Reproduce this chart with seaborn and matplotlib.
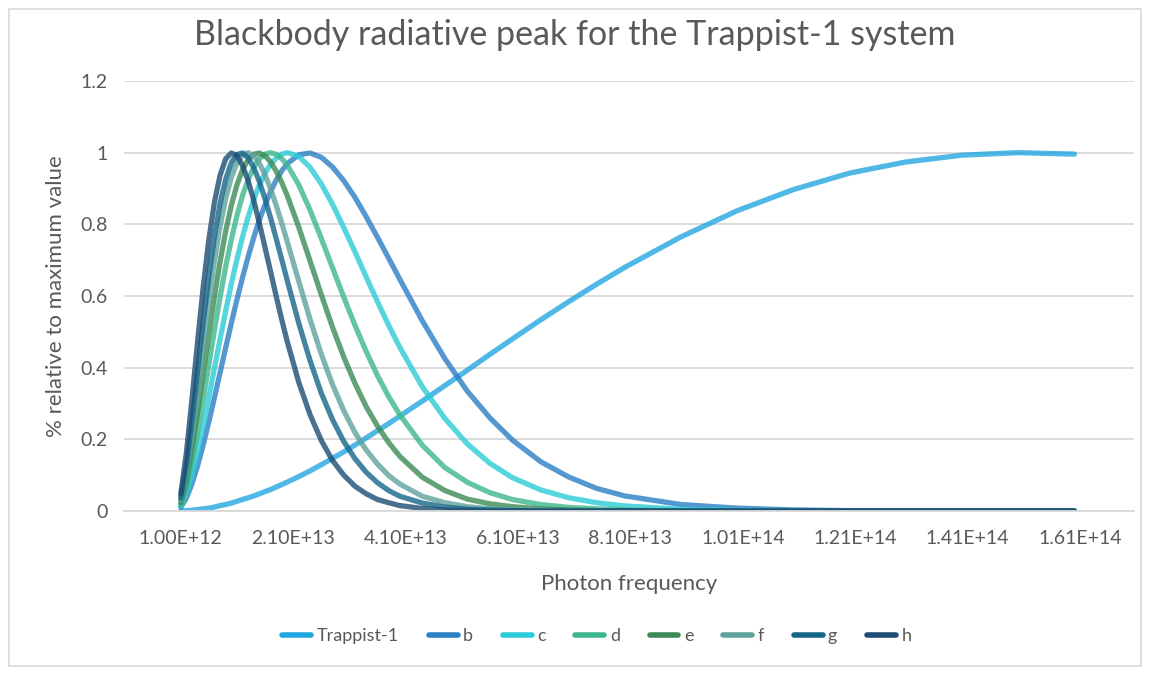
import numpy as np
import pandas as pd
import matplotlib
matplotlib.use("Agg")
import matplotlib.pyplot as plt
import matplotlib.ticker as mticker
from matplotlib.lines import Line2D
from matplotlib.patches import Rectangle
import seaborn as sns

# photon frequency, in units of 1E12 Hz
freq_e12 = [1, 2, 3, 4, 5, 6, 7, 8, 9, 10, 11, 12, 13, 14, 15, 16, 17, 18, 19, 20,
            22, 24, 26, 28, 30, 32, 34, 36, 38, 40, 44, 48, 52, 56, 60, 65, 70, 75,
            80, 90, 100, 110, 120, 130, 140, 150, 160]

# normalised blackbody curves
trappist1 = [0.000, 0.001, 0.002, 0.004, 0.006, 0.008, 0.011, 0.015, 0.018, 0.022,
             0.027, 0.032, 0.037, 0.042, 0.048, 0.054, 0.060, 0.067, 0.074, 0.081,
             0.096, 0.112, 0.129, 0.147, 0.165, 0.184, 0.204, 0.224, 0.244, 0.265,
             0.307, 0.350, 0.393, 0.437, 0.480, 0.533, 0.584, 0.633, 0.680, 0.765,
             0.838, 0.897, 0.943, 0.974, 0.993, 1.000, 0.996]
b = [0.010, 0.036, 0.076, 0.126, 0.185, 0.249, 0.317, 0.386, 0.456, 0.524,
     0.590, 0.652, 0.710, 0.764, 0.813, 0.855, 0.892, 0.924, 0.950, 0.970,
     0.994, 0.999, 0.987, 0.960, 0.922, 0.875, 0.821, 0.764, 0.705, 0.646,
     0.530, 0.425, 0.334, 0.260, 0.198, 0.138, 0.095, 0.063, 0.042, 0.018,
     0.008, 0.003, 0.001, 0.000, 0.000, 0.000, 0.000]
c = [0.013, 0.048, 0.100, 0.165, 0.239, 0.318, 0.399, 0.480, 0.559, 0.634,
     0.702, 0.765, 0.821, 0.870, 0.910, 0.943, 0.968, 0.985, 0.996, 1.000,
     0.990, 0.959, 0.913, 0.856, 0.791, 0.723, 0.653, 0.584, 0.518, 0.456,
     0.346, 0.258, 0.187, 0.133, 0.093, 0.059, 0.037, 0.023, 0.014, 0.005,
     0.002, 0.001, 0.000, 0.000, 0.000, 0.000, 0.000]
d = [0.018, 0.066, 0.136, 0.220, 0.313, 0.409, 0.505, 0.597, 0.682, 0.758,
     0.824, 0.881, 0.925, 0.959, 0.983, 0.996, 1.000, 0.995, 0.983, 0.964,
     0.910, 0.840, 0.761, 0.679, 0.597, 0.518, 0.445, 0.378, 0.319, 0.268,
     0.183, 0.121, 0.080, 0.051, 0.032, 0.018, 0.010, 0.006, 0.003, 0.001,
     0.000, 0.000, 0.000, 0.000, 0.000, 0.000, 0.000]
e = [0.023, 0.084, 0.171, 0.274, 0.384, 0.494, 0.599, 0.696, 0.781, 0.853,
     0.910, 0.953, 0.981, 0.996, 0.999, 0.991, 0.974, 0.948, 0.916, 0.878,
     0.792, 0.698, 0.604, 0.513, 0.430, 0.356, 0.291, 0.237, 0.191, 0.152,
     0.094, 0.057, 0.033, 0.020, 0.012, 0.006, 0.003, 0.001, 0.001, 0.000,
     0.000, 0.000, 0.000, 0.000, 0.000, 0.000, 0.000]
f = [0.030, 0.108, 0.215, 0.338, 0.465, 0.587, 0.698, 0.794, 0.872, 0.931,
     0.972, 0.994, 1.000, 0.991, 0.970, 0.938, 0.898, 0.852, 0.802, 0.749,
     0.641, 0.535, 0.438, 0.353, 0.280, 0.219, 0.170, 0.131, 0.099, 0.075,
     0.041, 0.023, 0.012, 0.006, 0.003, 0.001, 0.001, 0.000, 0.000, 0.000,
     0.000, 0.000, 0.000, 0.000, 0.000, 0.000, 0.000]
g = [0.036, 0.127, 0.251, 0.389, 0.527, 0.655, 0.767, 0.858, 0.926, 0.972,
     0.995, 0.999, 0.986, 0.958, 0.919, 0.871, 0.817, 0.759, 0.700, 0.640,
     0.524, 0.420, 0.329, 0.255, 0.194, 0.146, 0.108, 0.079, 0.057, 0.041,
     0.022, 0.011, 0.005, 0.003, 0.001, 0.000, 0.000, 0.000, 0.000, 0.000,
     0.000, 0.000, 0.000, 0.000, 0.000, 0.000, 0.000]
h = [0.047, 0.162, 0.312, 0.473, 0.625, 0.757, 0.862, 0.937, 0.983, 0.999,
     0.992, 0.964, 0.921, 0.866, 0.802, 0.735, 0.667, 0.598, 0.532, 0.470,
     0.359, 0.269, 0.197, 0.141, 0.100, 0.069, 0.048, 0.032, 0.023, 0.015,
     0.007, 0.003, 0.001, 0.000, 0.000, 0.000, 0.000, 0.000, 0.000, 0.000,
     0.000, 0.000, 0.000, 0.000, 0.000, 0.000, 0.000]

names = ["Trappist-1", "b", "c", "d", "e", "f", "g", "h"]
series = [trappist1, b, c, d, e, f, g, h]
colors = ["#23A6E0", "#2B7FC4", "#2ACBD6", "#3DB78F", "#3C8A55", "#5FA39E", "#166688", "#1D4C74"]

freq = np.array(freq_e12) * 1e12
df = pd.concat([pd.DataFrame({"freq": freq, "value": v, "body": n}) for n, v in zip(names, series)],
               ignore_index=True)

sns.set_style("white")
plt.rcParams["font.family"] = ["Lato", "DejaVu Sans"]

fig = plt.figure(figsize=(11.5, 6.75), dpi=100)
ax = fig.add_axes([0.1078, 0.2430, 0.8783, 0.6370])

# light border around the chart area, like the spreadsheet export
fig.patches.append(Rectangle((0.008, 0.013), 0.984, 0.974, transform=fig.transFigure,
                             fill=False, edgecolor="#D9D9D9", linewidth=1.2))

sns.lineplot(data=df, x="freq", y="value", hue="body", hue_order=names,
             palette=dict(zip(names, colors)), linewidth=3.8, alpha=0.8,
             legend=False, ax=ax)

ax.set_ylim(0, 1.2)
ax.set_xlim(-9.1e12, 1.706e14)
ax.set_yticks([0, 0.2, 0.4, 0.6, 0.8, 1.0, 1.2])
ax.yaxis.set_major_formatter(mticker.FuncFormatter(lambda v, p: f"{v:g}"))
ax.set_xticks([1e12 + 2e13 * i for i in range(9)])
ax.xaxis.set_major_formatter(mticker.FuncFormatter(lambda v, p: f"{v:.2E}"))
ax.grid(axis="y", color="#D9D9D9", linewidth=1.3)
ax.set_axisbelow(True)
for s in ["top", "right", "left"]:
    ax.spines[s].set_visible(False)
ax.spines["bottom"].set_color("#D9D9D9")
ax.spines["bottom"].set_linewidth(1.3)
ax.tick_params(axis="both", length=0, labelsize=14, labelcolor="#595959")
ax.tick_params(axis="x", pad=14)
ax.tick_params(axis="y", pad=12)

ax.set_xlabel("Photon frequency", fontsize=16, color="#595959", labelpad=19)
ax.set_ylabel("% relative to maximum value", fontsize=16, color="#595959", labelpad=10)
fig.suptitle("Blackbody radiative peak for the Trappist-1 system", y=0.972,
             fontsize=24.5, color="#595959")

handles = [Line2D([0], [0], color=col, linewidth=4) for col in colors]
fig.legend(handles, names, loc="center", bbox_to_anchor=(0.519, 0.058), ncol=8,
           frameon=False, fontsize=13, handlelength=1.6, handletextpad=0.3,
           columnspacing=1.65, labelcolor="#595959")

fig.savefig("out.png", dpi=100)
